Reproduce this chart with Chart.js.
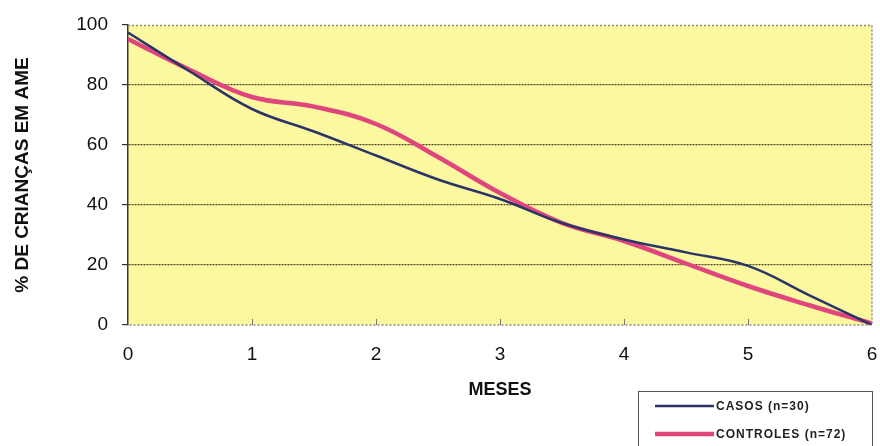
<!DOCTYPE html>
<html>
<head>
<meta charset="utf-8">
<script src="https://cdn.jsdelivr.net/npm/chart.js@4/dist/chart.umd.min.js"></script>
<style>
  html, body { margin: 0; padding: 0; background: #fff; }
  #wrap { width: 880px; height: 446px; position: relative; }
</style>
</head>
<body>
<div id="wrap"><canvas id="chart"></canvas></div>
<script>
// months since birth (half-month steps)
const months = [0, 0.5, 1, 1.5, 2, 2.5, 3, 3.5, 4, 4.5, 5, 5.5, 6];
const casos = [97.5, 84.5, 72, 64.5, 56.5, 48.5, 42, 34, 28.5, 24.2, 19.7, 9.8, 0];
const controles = [95.3, 85, 76, 72.8, 67, 56, 44, 34, 28, 20.5, 13, 6.5, 0.5];
const xTicks = [0, 1, 2, 3, 4, 5, 6];
const yTicks = [0, 20, 40, 60, 80, 100];
const labelCasos = 'CASOS (n=30)';
const labelControles = 'CONTROLES (n=72)';

const toPoints = (vals) => vals.map((v, i) => ({x: months[i], y: v}));

// yellow plot background + dotted frame + small inner ticks on the x axis
const plotBg = {
  id: 'plotBg',
  beforeDraw(chart) {
    const {ctx, chartArea: a} = chart;
    ctx.save();
    ctx.fillStyle = '#fcf8a0';
    ctx.fillRect(a.left, a.top, a.right - a.left, a.bottom - a.top);
    ctx.restore();
  },
  afterDatasetsDraw(chart) {
    const {ctx, chartArea: a} = chart;
    const xs = chart.scales.x;
    ctx.save();
    ctx.strokeStyle = '#8a8a80';
    ctx.lineWidth = 1.5;
    ctx.setLineDash([2, 2]);
    ctx.beginPath();
    ctx.moveTo(a.left, a.top + 0.5);
    ctx.lineTo(a.right, a.top + 0.5);
    ctx.lineTo(a.right, a.bottom);
    ctx.lineTo(a.left, a.bottom);
    ctx.stroke();
    ctx.setLineDash([]);
    ctx.strokeStyle = '#777';
    ctx.lineWidth = 1;
    xTicks.slice(1, -1).forEach(v => {
      const px = Math.round(xs.getPixelForValue(v)) + 0.5;
      ctx.beginPath();
      ctx.moveTo(px, a.bottom);
      ctx.lineTo(px, a.bottom - 6);
      ctx.stroke();
    });
    ctx.restore();
  }
};

// boxed legend at the bottom right
const boxLegend = {
  id: 'boxLegend',
  afterDraw(chart) {
    const ctx = chart.ctx;
    const ds = chart.data.datasets;
    ctx.save();
    ctx.strokeStyle = '#555';
    ctx.lineWidth = 1;
    ctx.strokeRect(638.5, 391.5, 234, 70);
    const rows = [406, 434];
    ds.forEach((d, i) => {
      ctx.strokeStyle = d.borderColor;
      ctx.lineWidth = d.borderWidth;
      ctx.beginPath();
      ctx.moveTo(655, rows[i]);
      ctx.lineTo(714, rows[i]);
      ctx.stroke();
      ctx.fillStyle = '#222';
      ctx.font = 'bold 12px "Liberation Sans", Arial, sans-serif';
      ctx.letterSpacing = '1px';
      ctx.textBaseline = 'middle';
      ctx.fillText(d.label, 716, rows[i] + 1);
    });
    ctx.restore();
  }
};

new Chart(document.getElementById('chart'), {
  type: 'line',
  data: {
    datasets: [
      {label: labelCasos, data: toPoints(casos), borderColor: '#2a3466', borderWidth: 2.5, order: 0},
      {label: labelControles, data: toPoints(controles), borderColor: '#e0457d', borderWidth: 4.5, order: 1}
    ]
  },
  options: {
    responsive: true,
    maintainAspectRatio: false,
    animation: false,
    layout: {padding: {top: 25, right: 8, left: 0, bottom: 0}},
    elements: {
      point: {radius: 0},
      line: {tension: 0.4, fill: false}
    },
    plugins: {
      legend: {display: false},
      tooltip: {enabled: false}
    },
    scales: {
      x: {
        type: 'linear',
        min: 0,
        max: 6,
        afterFit: (s) => { s.height = 121; s.paddingRight = 0; s.paddingLeft = 0; },
        afterBuildTicks: (s) => { s.ticks = xTicks.map(v => ({value: v})); },
        grid: {display: false, drawTicks: false},
        border: {display: false},
        ticks: {
          padding: 18,
          maxRotation: 0,
          color: '#111',
          font: {family: '"Liberation Sans", Arial, sans-serif', size: 19}
        },
        title: {
          display: true,
          text: 'MESES',
          color: '#111',
          padding: {bottom: 45},
          font: {family: '"Liberation Sans", Arial, sans-serif', size: 18, weight: 'bold'}
        }
      },
      y: {
        min: 0,
        max: 100,
        afterFit: (s) => { s.width = 128; s.paddingTop = 0; s.paddingBottom = 0; },
        afterBuildTicks: (s) => { s.ticks = yTicks.map(v => ({value: v})); },
        grid: {
          color: (c) => (c.tick && (c.tick.value === 0 || c.tick.value === 100)) ? 'rgba(0,0,0,0)' : '#4a4628',
          lineWidth: 1.2,
          tickLength: 6,
          tickColor: '#333'
        },
        border: {display: true, color: '#3a3a30', width: 1.5, dash: [2, 1]},
        ticks: {
          padding: 14,
          color: '#111',
          font: {family: '"Liberation Sans", Arial, sans-serif', size: 19}
        },
        title: {
          display: true,
          text: '% DE CRIANÇAS EM AME',
          color: '#111',
          padding: {top: 11},
          font: {family: '"Liberation Sans", Arial, sans-serif', size: 19, weight: 'bold'}
        }
      }
    }
  },
  plugins: [plotBg, boxLegend]
});
</script>
</body>
</html>
